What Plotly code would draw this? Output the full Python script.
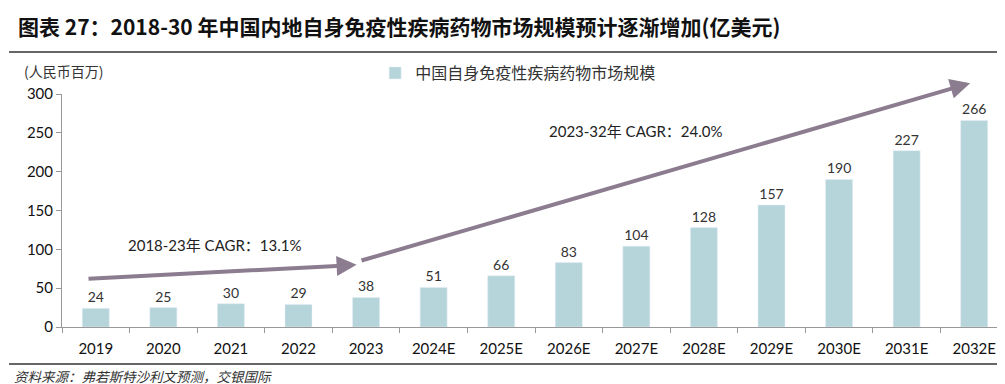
import plotly.graph_objects as go

categories = ["2019", "2020", "2021", "2022", "2023", "2024E", "2025E", "2026E",
              "2027E", "2028E", "2029E", "2030E", "2031E", "2032E"]
values = [24, 25, 30, 29, 38, 51, 66, 83, 104, 128, 157, 190, 227, 266]
series_name = "中国自身免疫性疾病药物市场规模"
title_text = "图表 27：2018-30 年中国内地自身免疫性疾病药物市场规模预计逐渐增加(亿美元)"
unit_text = "(人民币百万)"
source_text = "资料来源：弗若斯特沙利文预测，交银国际"
cagr1_text = "2018-23年 CAGR：13.1%"
cagr2_text = "2023-32年 CAGR：24.0%"

FONT = "Lato, 'Noto Sans CJK SC', sans-serif"
CJK = "'Noto Sans CJK SC', sans-serif"
BAR_COLOR = "#B6D5DB"
ARROW_COLOR = "#8C7C8F"

T, B = 86, 65
PH = 384 - T - B


def py2paper(py):
    return (384 - B - py) / PH


fig = go.Figure()
fig.add_trace(go.Bar(
    x=categories, y=values, name=series_name,
    marker_color=BAR_COLOR, width=0.4,
    text=[str(v) for v in values], textposition="outside",
    textfont=dict(size=14, color="#333333", family=FONT),
    cliponaxis=False,
))

fig.update_layout(
    width=1005, height=384,
    margin=dict(l=54, r=5, t=T, b=B, autoexpand=False),
    paper_bgcolor="white", plot_bgcolor="white",
    font=dict(family=FONT, color="#222222"),
    showlegend=True,
    legend=dict(orientation="h", x=0.331, y=py2paper(65), xanchor="left", yanchor="middle",
                font=dict(size=16, color="#333333", family=CJK),
                bgcolor="rgba(0,0,0,0)", itemwidth=30),
    title=dict(text="<b>" + title_text + "</b>", x=0.01, xanchor="left",
               y=1 - 20 / 384, yanchor="middle",
               font=dict(size=21, color="#111111", family=CJK)),
    xaxis=dict(type="category", showgrid=False, showline=True, linecolor="#999999",
               ticks="outside", tickson="boundaries", ticklen=5, tickcolor="#999999",
               ticklabelstandoff=8,
               tickfont=dict(size=15, color="#111111", family=FONT)),
    yaxis=dict(range=[0, 300], dtick=50, showgrid=False, showline=True, linecolor="#999999",
               ticks="outside", ticklen=5, tickcolor="#999999", zeroline=False,
               tickfont=dict(size=15, color="#111111", family=FONT)),
)

# unit label
fig.add_annotation(text=unit_text, xref="paper", yref="paper", x=-0.042, y=py2paper(63),
                   xanchor="left", yanchor="middle", showarrow=False,
                   font=dict(size=14, color="#333333", family=CJK))

# source
fig.add_annotation(text="<i>" + source_text + "</i>", xref="paper", yref="paper",
                   x=-0.053, y=py2paper(368), xanchor="left", yanchor="middle",
                   showarrow=False,
                   font=dict(size=13.5, color="#333333", family=CJK))

# CAGR arrows
fig.add_annotation(x=3.86, y=80, ax=-0.13, ay=62, xref="x", yref="y", axref="x", ayref="y",
                   text="", showarrow=True, arrowhead=2, arrowsize=1, arrowwidth=4,
                   arrowcolor=ARROW_COLOR)
fig.add_annotation(x=12.94, y=314, ax=3.91, ay=85, xref="x", yref="y", axref="x", ayref="y",
                   text="", showarrow=True, arrowhead=2, arrowsize=1, arrowwidth=4,
                   arrowcolor=ARROW_COLOR)
fig.add_annotation(text=cagr1_text, x=1.76, y=106, xref="x", yref="y", showarrow=False,
                   font=dict(size=15, color="#222222", family=FONT))
fig.add_annotation(text=cagr2_text, x=8.0, y=252, xref="x", yref="y", showarrow=False,
                   font=dict(size=15, color="#222222", family=FONT))

# horizontal rules
fig.add_shape(type="line", xref="paper", yref="paper", x0=-0.056, x1=1.0,
              y0=py2paper(44), y1=py2paper(44), line=dict(color="#333333", width=1.5))
fig.add_shape(type="line", xref="paper", yref="paper", x0=-0.056, x1=1.0,
              y0=py2paper(356), y1=py2paper(356), line=dict(color="#333333", width=1.5))

fig.write_html("out.html")
